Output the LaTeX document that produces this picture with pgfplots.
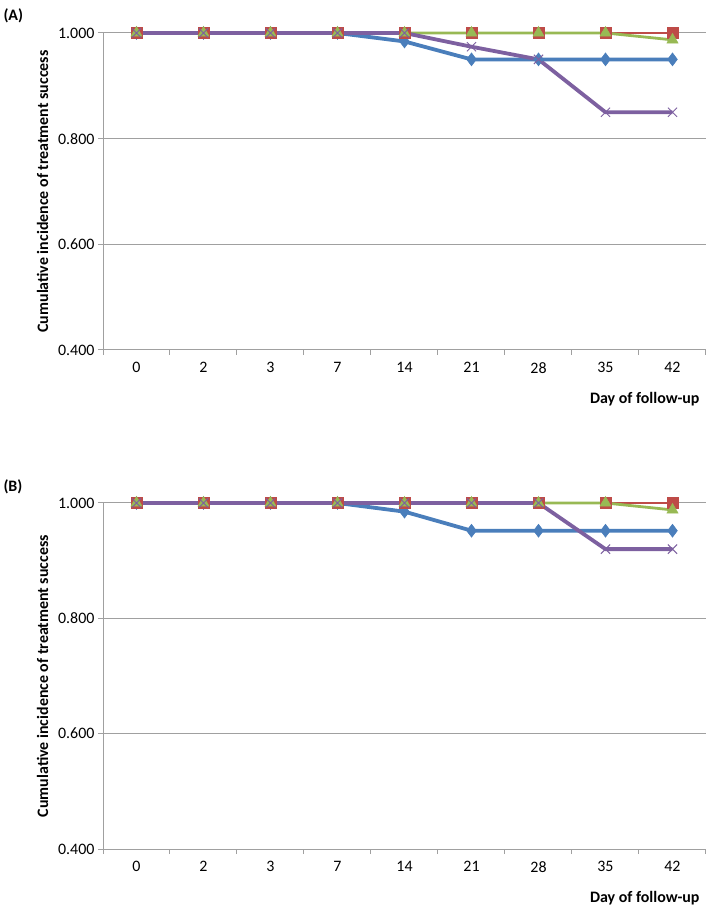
\documentclass[border=0pt]{standalone}
\usepackage{pgfplots}
\pgfplotsset{compat=1.18}
\usepackage{fontspec}
\setmainfont{Carlito}
\definecolor{xblue}{HTML}{4A7EBB}
\definecolor{xred}{HTML}{BE4B48}
\definecolor{xgreen}{HTML}{98B954}
\definecolor{xpurple}{HTML}{7D60A0}
\definecolor{xgrid}{HTML}{A0A0A0}
\pgfplotsset{
 panel/.style={
  scale only axis, width=603bp,
  xmin=-0.5, xmax=8.5, ymin=0.4, ymax=1.0,
  xtick={-0.5,0.5,1.5,2.5,3.5,4.5,5.5,6.5,7.5,8.5}, xticklabels={,,,,,,,,,},
  extra x ticks={0,1,2,3,4,5,6,7,8},
  extra x tick labels={0,2,3,7,14,21,28,35,42},
  extra x tick style={major tick length=0pt},
  ytick={0.4,0.6,0.8,1.0}, yticklabels={0.400,0.600,0.800,1.000},
  axis x line*=bottom, axis y line*=left,
  ymajorgrids, major grid style={xgrid, line width=1bp},
  axis line style={xgrid, line width=1bp},
  tick style={xgrid, line width=1bp},
  tick align=outside, major tick length=5bp,
  ticklabel style={font=\fontsize{16}{19}\selectfont, text=black},
  xticklabel style={yshift=-9bp},
  ylabel={Cumulative incidence of treatment success},
  xlabel={Day of follow-up},
  every axis y label/.style={at={(axis description cs:-0.1,0.5)}, rotate=90, anchor=center, font=\fontsize{16}{19}\selectfont\bfseries},
  every axis x label/.style={at={(axis description cs:1,0)}, anchor=north east, xshift=-3bp, yshift=-39bp, font=\fontsize{16}{19}\selectfont\bfseries},
  clip=false,
 },
 sblue/.style={xblue, line width=3.8bp, mark=diamond*, mark size=6.5bp, mark options={solid, fill=xblue, draw=xblue, line width=0.5bp}},
 sred/.style={xred, line width=2.5bp, mark=square*, mark size=5.5bp, mark options={solid, fill=xred, draw=xred, line width=0.5bp}},
 sgreen/.style={xgreen, line width=2.8bp, mark=triangle*, mark size=6.5bp, mark options={solid, fill=xgreen, draw=xgreen, line width=0.5bp}},
 spurple/.style={xpurple, line width=3.8bp, mark=x, mark size=6.5bp, mark options={solid, draw=xpurple, line width=1bp}},
}
\begin{document}
\begin{tikzpicture}
\useasboundingbox (0,0) rectangle (709bp,905bp);
\node[anchor=west, font=\fontsize{16}{19}\selectfont\bfseries] at (0bp,889bp) {(A)};
\node[anchor=west, font=\fontsize{16}{19}\selectfont\bfseries] at (0bp,418bp) {(B)};
\begin{axis}[panel, at={(103bp,555bp)}, anchor=south west, height=317bp]
\addplot[sblue] coordinates {(0,1)(1,1)(2,1)(3,1)(4,0.984)(5,0.950)(6,0.950)(7,0.950)(8,0.950)};
\addplot[sred] coordinates {(0,1)(1,1)(2,1)(3,1)(4,1)(5,1)(6,1)(7,1)(8,1)};
\addplot[sgreen] coordinates {(0,1)(1,1)(2,1)(3,1)(4,1)(5,1)(6,1)(7,1)(8,0.987)};
\addplot[spurple] coordinates {(0,1)(1,1)(2,1)(3,1)(4,1)(5,0.974)(6,0.950)(7,0.850)(8,0.850)};
\end{axis}
\begin{axis}[panel, at={(103bp,56bp)}, anchor=south west, height=346bp]
\addplot[sblue] coordinates {(0,1)(1,1)(2,1)(3,1)(4,0.985)(5,0.952)(6,0.952)(7,0.952)(8,0.952)};
\addplot[sred] coordinates {(0,1)(1,1)(2,1)(3,1)(4,1)(5,1)(6,1)(7,1)(8,1)};
\addplot[sgreen] coordinates {(0,1)(1,1)(2,1)(3,1)(4,1)(5,1)(6,1)(7,1)(8,0.988)};
\addplot[spurple] coordinates {(0,1)(1,1)(2,1)(3,1)(4,1)(5,1)(6,1)(7,0.920)(8,0.920)};
\end{axis}
\end{tikzpicture}
\end{document}
